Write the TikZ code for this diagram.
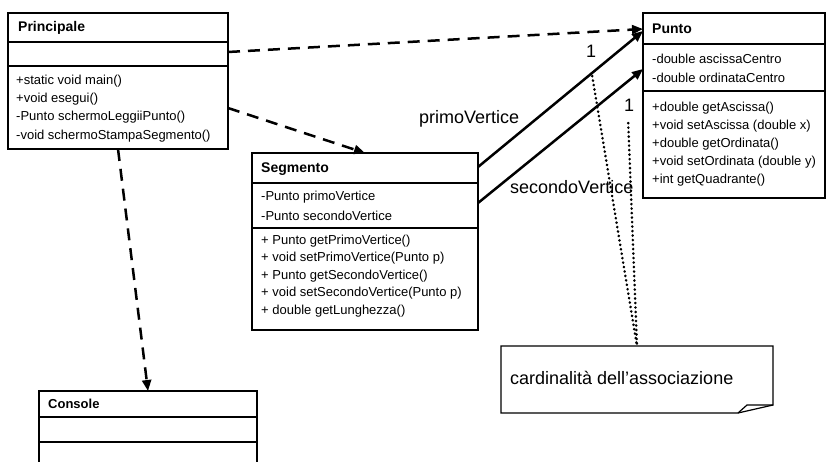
\documentclass[tikz,border=0pt]{standalone}
\usepackage{fontspec}
\setmainfont{Liberation Sans}
\usetikzlibrary{arrows.meta}

\begin{document}
\begin{tikzpicture}[x=1pt, y=-1pt,
  classbox/.style={draw, line width=1.2pt, inner sep=0pt, outer sep=0pt, anchor=north west},
  boxline/.style={line width=1.2pt},
  titletext/.style={font=\fontsize{14}{16}\bfseries\selectfont, inner sep=0pt, anchor=base west},
  membertext/.style={font=\fontsize{13}{15}\selectfont, inner sep=0pt, anchor=base west},
  bigtext/.style={font=\fontsize{18}{20}\selectfont, inner sep=0pt, anchor=base west},
  deparrow/.style={line width=2.5pt, dash pattern=on 12pt off 8pt, -{Triangle[length=11pt,width=9pt]}},
  assocarrow/.style={line width=2.5pt, -{Triangle[length=11pt,width=9pt]}},
  dotline/.style={line width=2.6pt, line cap=round, dash pattern=on 0.3pt off 4.2pt}]

\clip (0,0) rectangle (826,462);

% class boxes
\node[classbox, minimum width=220pt, minimum height=136pt] (principale) at (8,13) {};
\node[classbox, minimum width=226pt, minimum height=177pt] (segmento) at (252,153) {};
\node[classbox, minimum width=182pt, minimum height=185pt] (punto) at (643,13) {};
\node[classbox, minimum width=218pt, minimum height=90pt] (console) at (39,391) {};

% compartments
\draw[boxline] ([yshift=-29pt]principale.north west) -- ([yshift=-29pt]principale.north east);
\draw[boxline] ([yshift=-53pt]principale.north west) -- ([yshift=-53pt]principale.north east);
\draw[boxline] ([yshift=-30pt]segmento.north west) -- ([yshift=-30pt]segmento.north east);
\draw[boxline] ([yshift=-75pt]segmento.north west) -- ([yshift=-75pt]segmento.north east);
\draw[boxline] ([yshift=-31pt]punto.north west) -- ([yshift=-31pt]punto.north east);
\draw[boxline] ([yshift=-78pt]punto.north west) -- ([yshift=-78pt]punto.north east);
\draw[boxline] ([yshift=-26pt]console.north west) -- ([yshift=-26pt]console.north east);
\draw[boxline] ([yshift=-51pt]console.north west) -- ([yshift=-51pt]console.north east);

% Principale
\node[titletext] (principaleT) at (18,32) {Principale};
\node[membertext] (principaleM1) at (16,85) {+static void main()};
\node[membertext] (principaleM2) at (16,103) {+void esegui()};
\node[membertext] (principaleM3) at (16,121) {-Punto schermoLeggiiPunto()};
\node[membertext] (principaleM4) at (16,139.5) {-void schermoStampaSegmento()};

% Segmento
\node[titletext] (segmentoT) at (261,173) {Segmento};
\node[membertext] (segmentoA1) at (261,201) {-Punto primoVertice};
\node[membertext] (segmentoA2) at (261,220) {-Punto secondoVertice};
\node[membertext] (segmentoM1) at (261,244) {+ Punto getPrimoVertice()};
\node[membertext] (segmentoM2) at (261,261.5) {+ void setPrimoVertice(Punto p)};
\node[membertext] (segmentoM3) at (261,279) {+ Punto getSecondoVertice()};
\node[membertext] (segmentoM4) at (261,296.5) {+ void setSecondoVertice(Punto p)};
\node[membertext] (segmentoM5) at (261,314) {+ double getLunghezza()};

% Punto
\node[titletext] (puntoT) at (652,33.5) {Punto};
\node[membertext] (puntoA1) at (652,63.5) {-double ascissaCentro};
\node[membertext] (puntoA2) at (652,82.5) {-double ordinataCentro};
\node[membertext] (puntoM1) at (652,111.5) {+double getAscissa()};
\node[membertext] (puntoM2) at (652,129.5) {+void setAscissa (double x)};
\node[membertext] (puntoM3) at (652,147.5) {+double getOrdinata()};
\node[membertext] (puntoM4) at (652,165.5) {+void setOrdinata (double y)};
\node[membertext] (puntoM5) at (652,184) {+int getQuadrante()};

% Console
\node[titletext, font=\fontsize{13}{15}\bfseries\selectfont] (consoleT) at (48,408) {Console};

% note
\node[inner sep=0pt, outer sep=0pt, anchor=north west, minimum width=272pt, minimum height=67pt] (note) at (501,346) {};
\draw[boxline] (note.north west) -- (note.north east) -- ([yshift=8pt]note.south east)
  -- ([xshift=-35pt]note.south east) -- (note.south west) -- cycle;
\draw[boxline] ([xshift=-35pt]note.south east) -- ([xshift=-26pt,yshift=8pt]note.south east)
  -- ([yshift=8pt]note.south east);
\node[bigtext] (noteT) at (510,384) {cardinalità dell’associazione};

% labels
\node[bigtext] (primoL) at (419,124) {primoVertice};
\node[bigtext] (secondoL) at (510,194) {secondoVertice};
\node[bigtext] (one1) at (586,58) {1};
\node[bigtext] (one2) at (624,112) {1};

% dependencies
\draw[deparrow] ([yshift=29pt]principale.east) -- ([yshift=-16pt]punto.north west);
\draw[deparrow] ([yshift=-27pt]principale.east) -- (segmento.north);
\draw[deparrow] (principale.south) -- (console.north);

% associations
\draw[assocarrow] ([yshift=-14pt]segmento.north east) -- ([yshift=-18pt]punto.north west);
\draw[assocarrow] ([yshift=-50pt]segmento.north east) -- ([yshift=-56pt]punto.north west);

% note links
\draw[dotline] ([xshift=1pt,yshift=-18pt]one1.base) -- (note.north);
\draw[dotline] ([xshift=-1pt,yshift=-11pt]one2.base) -- (note.north);

\end{tikzpicture}
\end{document}
